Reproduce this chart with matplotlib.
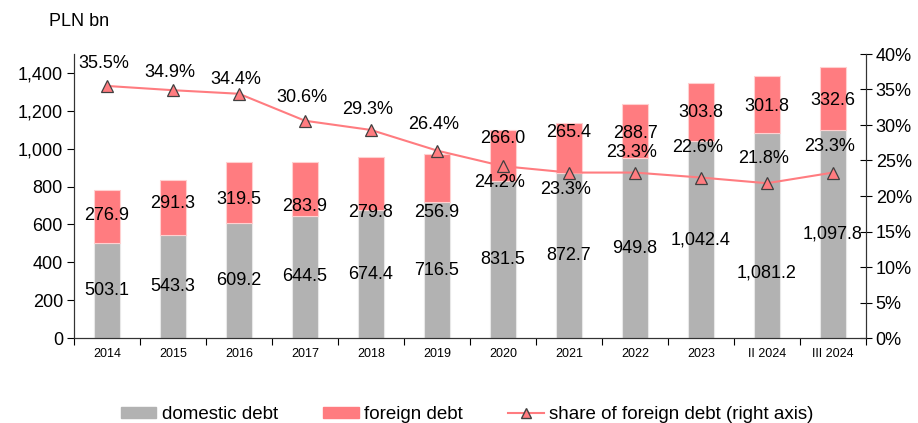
import matplotlib
matplotlib.use("Agg")
import matplotlib.pyplot as plt
import numpy as np
from matplotlib.ticker import FuncFormatter, MultipleLocator
from matplotlib.patches import Patch
from matplotlib.lines import Line2D

plt.rcParams['font.family'] = ['Liberation Sans', 'DejaVu Sans']

categories = ["2014", "2015", "2016", "2017", "2018", "2019", "2020", "2021",
              "2022", "2023", "II 2024", "III 2024"]
domestic = [503.1, 543.3, 609.2, 644.5, 674.4, 716.5, 831.5, 872.7, 949.8,
            1042.4, 1081.2, 1097.8]
foreign = [276.9, 291.3, 319.5, 283.9, 279.8, 256.9, 266.0, 265.4, 288.7,
           303.8, 301.8, 332.6]
share = [35.5, 34.9, 34.4, 30.6, 29.3, 26.4, 24.2, 23.3, 23.3, 22.6, 21.8, 23.3]

# label placement offsets (pixels) relative to segment centre / marker
dom_off = [0, 0, 0, 0, 0, 0, 0, 0, 0, -1, -37, 0]
for_off = [1, 4, -7, -17, -29, -34, 17, 15, -3, -1, -2, -2]
pct_off = [22, 18, 14, 23, 20, 26, -16, -17, 20, 30, 25, 26]

GREY = "#B2B2B2"
RED = "#FF7C80"
FS = 13

fig = plt.figure(figsize=(9.18, 4.23), dpi=100)
ax = fig.add_axes([74/918, 1-338/423, (866-74)/918, (338-54)/423])
ax2 = ax.twinx()

x = np.arange(len(categories))
w = 0.4
ax.bar(x, domestic, w, color=GREY, edgecolor="#E8E8E8", linewidth=0.8, zorder=2)
ax.bar(x, foreign, w, bottom=domestic, color=RED, edgecolor="#FFD0D0",
       linewidth=0.8, zorder=2)

ax.set_xlim(-0.5, len(categories) - 0.5)
ax.set_ylim(0, 1500)
ax.yaxis.set_major_locator(MultipleLocator(200))
ax.yaxis.set_major_formatter(FuncFormatter(lambda v, p: f"{int(v):,}"))
ax.set_xticks(x)
ax.set_xticklabels(categories, fontsize=9)
ax.set_xticks(np.arange(-0.5, len(categories), 1), minor=True)
ax.tick_params(axis="x", which="major", length=0, pad=7)
ax.tick_params(axis="x", which="minor", length=5, width=0.8, direction="out")
ax.tick_params(axis="y", labelsize=FS, length=5, width=0.8, direction="out", pad=3)

ax2.set_ylim(0, 0.40)
ax2.yaxis.set_major_locator(MultipleLocator(0.05))
ax2.yaxis.set_major_formatter(FuncFormatter(lambda v, p: f"{v*100:.0f}%"))
ax2.tick_params(axis="y", labelsize=FS, length=8, width=0.8, direction="inout", pad=3)

for a in (ax, ax2):
    a.spines["top"].set_visible(False)
    for s in ("left", "right", "bottom"):
        a.spines[s].set_color("#333333")
        a.spines[s].set_linewidth(0.8)

ax2.plot(x, np.array(share) / 100, color=RED, linewidth=1.5, marker="^",
         markersize=8, markerfacecolor=RED, markeredgecolor="#404040",
         markeredgewidth=0.9, zorder=3)

for i in range(len(categories)):
    ax.annotate(f"{domestic[i]:,.1f}", (x[i], domestic[i] / 2),
                xytext=(0, dom_off[i]), textcoords="offset pixels",
                ha="center", va="center", fontsize=FS, zorder=5)
    ax.annotate(f"{foreign[i]:,.1f}", (x[i], domestic[i] + foreign[i] / 2),
                xytext=(0, for_off[i]), textcoords="offset pixels",
                ha="center", va="center", fontsize=FS, zorder=5)
    ax2.annotate(f"{share[i]:.1f}%", (x[i], share[i] / 100),
                 xytext=(-3, pct_off[i]), textcoords="offset pixels",
                 ha="center", va="center", fontsize=FS, zorder=5)

fig.text(49/918, 1-22/423, "PLN bn", fontsize=FS, ha="left", va="center")

handles = [Patch(facecolor=GREY, edgecolor=GREY),
           Patch(facecolor=RED, edgecolor=RED),
           Line2D([0], [0], color=RED, linewidth=1.5, marker="^", markersize=7,
                  markerfacecolor=RED, markeredgecolor="#404040")]
labels = ["domestic debt", "foreign debt", "share of foreign debt (right axis)"]
fig.legend(handles, labels, loc="center", bbox_to_anchor=(0.509, 0.019),
           ncol=3, frameon=False, fontsize=13.5, handlelength=1.9,
           handleheight=0.53, handletextpad=0.3, columnspacing=2.4)

fig.savefig("out.png", dpi=100)
